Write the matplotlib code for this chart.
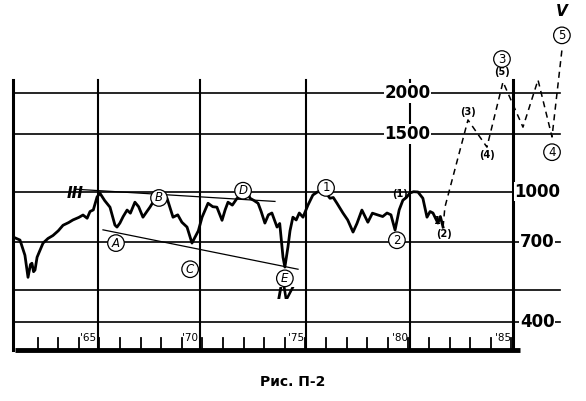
import matplotlib.pyplot as plt
import numpy as np

# Dow Jones curve (decimal year, index value)
dow_years = [1961.1, 1961.34, 1961.58, 1961.73, 1961.85, 1961.92, 1962.0, 1962.07, 1962.17, 1962.3,
             1962.46, 1962.7, 1962.94, 1963.2, 1963.43, 1963.7, 1963.91, 1964.2, 1964.4, 1964.6,
             1964.74, 1964.9, 1965.08, 1965.22, 1965.45, 1965.71, 1965.95, 1966.05, 1966.19, 1966.35,
             1966.54, 1966.7, 1966.92, 1967.1, 1967.31, 1967.5, 1967.65, 1967.85, 1968.04, 1968.25,
             1968.48, 1968.77, 1969.0, 1969.2, 1969.45, 1969.69, 1969.84, 1970.0, 1970.18, 1970.47,
             1970.7, 1970.9, 1971.15, 1971.3, 1971.44, 1971.65, 1971.88, 1972.17, 1972.35, 1972.51,
             1972.7, 1972.9, 1973.05, 1973.23, 1973.4, 1973.57, 1973.82, 1973.95, 1974.11, 1974.2,
             1974.35, 1974.45, 1974.59, 1974.75, 1974.9, 1975.08, 1975.32, 1975.56, 1975.8, 1976.05,
             1976.2, 1976.39, 1976.55, 1976.73, 1977.02, 1977.25, 1977.51, 1977.7, 1977.94, 1978.23,
             1978.45, 1978.72, 1978.95, 1979.16, 1979.35, 1979.55, 1979.75, 1979.93, 1980.1, 1980.27,
             1980.45, 1980.66, 1980.9, 1981.1, 1981.25, 1981.39, 1981.63, 1981.75, 1981.88]
dow_values = [723, 712, 640, 548, 600, 605, 570, 577, 631, 660,
              697, 720, 735, 760, 790, 805, 820, 835, 849, 830,
              870, 880, 963, 990, 940, 897, 791, 780, 802, 840,
              879, 860, 929, 900, 836, 870, 897, 940, 977, 960,
              955, 836, 850, 807, 780, 697, 727, 760, 836, 922,
              900, 897, 818, 880, 929, 910, 955, 963, 1012, 955,
              940, 922, 870, 802, 850, 861, 780, 800, 631, 589,
              678, 760, 836, 820, 861, 836, 910, 977, 1000, 998,
              990, 955, 960, 922, 861, 820, 753, 800, 879, 807,
              860, 849, 840, 861, 850, 764, 880, 942, 960, 991,
              1000, 998, 955, 836, 870, 861, 802, 840, 780]

# projected path (dashed)
proj_years = [1981.88, 1981.97, 1983.09, 1984.01, 1984.79, 1985.76, 1986.49, 1987.17, 1987.65]
proj_values = [780, 897, 1656, 1368, 2163, 1574, 2193, 1469, 2704]

grid_levels = [2000, 1500, 1000, 700, 500, 400]
labelled_levels = {2000: 1980.15, 1500: 1980.15, 1000: 1986.45, 700: 1986.45, 400: 1986.45}
year_lines = [1961.0, 1965.13, 1970.08, 1975.22, 1980.27, 1985.27]
year_labels = ["", "'65", "'70", "'75", "'80", "'85"]

fig = plt.figure(figsize=(5.86, 4.01), dpi=100)
ax = fig.add_axes([0, 0, 1, 1])
ax.set_yscale('log')
ax.set_xlim(1960.37, 1988.82)
ax.set_ylim(229.8, 3846)
ax.axis('off')

# grid
for lv in grid_levels:
    ax.plot([1961.0, 1987.55], [lv, lv], color='black', lw=1.2)
for i, yr in enumerate(year_lines):
    lw = 2.2 if i in (0, 5) else 1.5
    ax.plot([yr, yr], [328, 2193], color='black', lw=lw)
    if year_labels[i]:
        ax.text(yr - 0.1, 357, year_labels[i], ha='right', va='center', fontsize=7.5)
for lv, xp in labelled_levels.items():
    ax.text(xp, lv, str(lv), ha='center', va='center', fontsize=12, fontweight='bold',
            bbox=dict(facecolor='white', edgecolor='none', pad=0.5))

# bottom axis with yearly ticks
ax.plot([1961.1, 1985.6], [328, 328], color='black', lw=3.5, solid_capstyle='butt')
for yr in np.arange(1962.2, 1985.5, 1.0):
    ax.plot([yr, yr], [328, 357], color='black', lw=1.3)

# curves
ax.plot(dow_years, dow_values, color='black', lw=2.0)
ax.plot(proj_years, proj_values, color='black', lw=1.1, ls=(0, (4, 3)), clip_on=False)

# trend lines
ax.plot([1964.01, 1973.72], [1018, 934], color='black', lw=0.9)
ax.plot([1965.37, 1974.84], [765, 580], color='black', lw=0.9)

circ = dict(boxstyle='circle,pad=0.15', facecolor='white', edgecolor='black', lw=0.9)
for txt, x, y in [("B", 1968.09, 957), ("D", 1972.17, 1007), ("A", 1966.0, 697),
                  ("C", 1969.6, 580), ("E", 1974.2, 544), ("1", 1976.2, 1027),
                  ("2", 1979.64, 711), ("3", 1984.74, 2540), ("4", 1987.17, 1320),
                  ("5", 1987.65, 3000)]:
    ax.text(x, y, txt, ha='center', va='center', fontsize=8.5, style='italic' if txt.isalpha() else 'normal',
            bbox=circ)

for txt, x, y in [("(1)", 1979.8, 985), ("(2)", 1981.93, 745), ("(3)", 1983.09, 1745),
                  ("(4)", 1984.01, 1290), ("(5)", 1984.74, 2320), ("1", 1981.6, 815)]:
    ax.text(x, y, txt, ha='center', va='center', fontsize=7, fontweight='bold')

for txt, x, y in [("III", 1964.01, 985), ("IV", 1974.2, 485), ("V", 1987.65, 3550)]:
    ax.text(x, y, txt, ha='center', va='center', fontsize=11, fontweight='bold', style='italic')

ax.text(1974.6, 262, "Рис. П-2", ha='center', va='center', fontsize=10, fontweight='bold')

fig.savefig('out.png', dpi=100)
